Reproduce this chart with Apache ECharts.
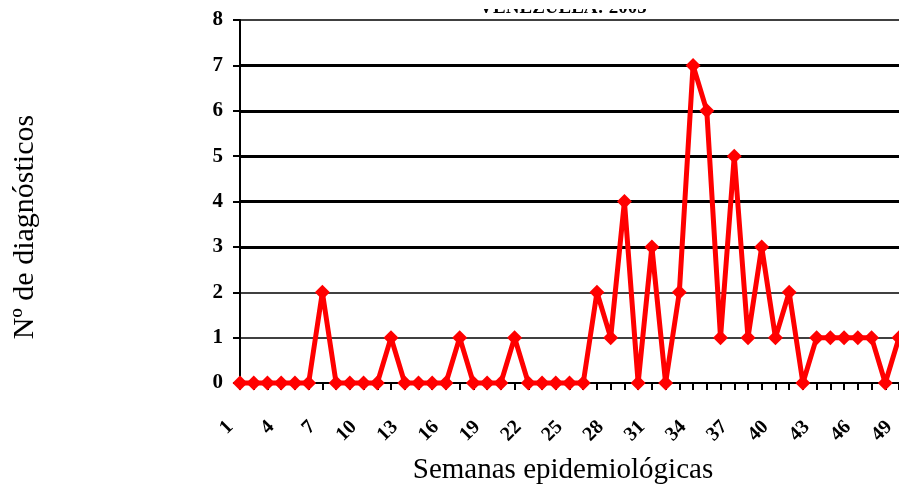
<!DOCTYPE html>
<html>
<head>
<meta charset="utf-8">
<script src="https://cdn.jsdelivr.net/npm/echarts@6/dist/echarts.min.js"></script>
<style>
html,body{margin:0;padding:0;background:#fff;}
#chart{width:899px;height:487px;}
</style>
</head>
<body>
<div id="chart"></div>
<script>
// Epidemiological weeks (categories)
const weeks = [1,2,3,4,5,6,7,8,9,10,11,12,13,14,15,16,17,18,19,20,21,22,23,24,25,26,27,28,29,30,31,32,33,34,35,36,37,38,39,40,41,42,43,44,45,46,47,48,49];
// Number of diagnoses per week
const diagnoses = [0,0,0,0,0,0,2,0,0,0,0,1,0,0,0,0,1,0,0,0,1,0,0,0,0,0,2,1,4,0,3,0,2,7,6,1,5,1,3,1,2,0,1,1,1,1,1,0,1];
// Y tick values that are drawn with heavy gridlines
const heavyGrid = [3,4,5,6,7];
const titleText = "VENEZUELA: 2005";
const yName = "Nº de diagnósticos";
const xName = "Semanas epidemiológicas";

const serif = "'Liberation Serif','Times New Roman',serif";
const chart = echarts.init(document.getElementById('chart'), null, {renderer:'canvas'});
chart.setOption({
  animation:false,
  backgroundColor:'#ffffff',
  grid:{left:240,right:0,top:20,bottom:104,containLabel:false,outerBoundsMode:'none'},
  graphic:[
    {type:'text',x:563,y:18,z:1,style:{text:titleText,font:'bold 19px '+serif,fill:'#000',align:'center',verticalAlign:'bottom'}},
    {type:'rect',shape:{x:450,y:0,width:230,height:9},z:2,style:{fill:'#fff'},silent:true},
    {type:'text',rotation:Math.PI/2,x:25,y:227,style:{text:yName,font:'30px '+serif,fill:'#000',align:'center',verticalAlign:'middle'}},
    {type:'text',x:563,y:470,style:{text:xName,font:'29px '+serif,fill:'#000',align:'center',verticalAlign:'middle'}}
  ],
  xAxis:{
    type:'category',data:weeks,boundaryGap:false,
    axisLine:{show:true,lineStyle:{color:'#000',width:2}},
    axisTick:{show:true,interval:0,length:7,lineStyle:{color:'#000',width:2}},
    axisLabel:{interval:2,rotate:45,color:'#000',fontFamily:serif,fontWeight:'bold',fontSize:20,margin:31,padding:[0,14,0,0]},
    splitLine:{show:false}
  },
  yAxis:{
    type:'value',min:0,max:8,interval:1,
    axisLine:{show:true,lineStyle:{color:'#000',width:2}},
    axisTick:{show:true,length:7,lineStyle:{color:'#000',width:2}},
    axisLabel:{color:'#000',fontFamily:serif,fontWeight:'bold',fontSize:21,margin:17},
    splitLine:{show:true,lineStyle:{color:'#000',width:1.5}}
  },
  series:[{
    type:'line',data:diagnoses,
    lineStyle:{color:'#ff0000',width:5},
    itemStyle:{color:'#ff0000'},
    symbol:'diamond',symbolSize:15,showAllSymbol:true,
    clip:false,
    markLine:{silent:true,symbol:'none',label:{show:false},
      lineStyle:{color:'#000',width:3,type:'solid'},
      data:heavyGrid.map(v=>({yAxis:v}))},
    z:5
  }]
});
</script>
</body>
</html>
